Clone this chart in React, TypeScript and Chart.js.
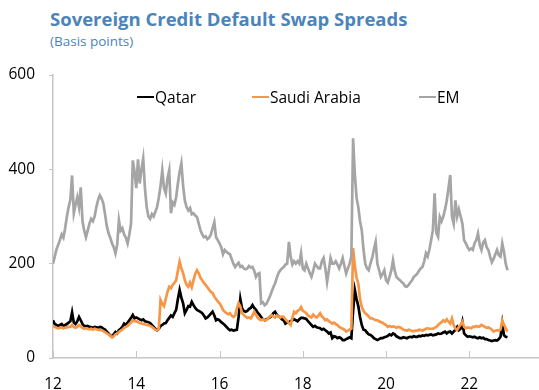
import React, { useEffect, useRef } from "react";
import { Chart, registerables } from "chart.js";

Chart.register(...registerables);

// ---- data ----
const START_YEAR = 12; // 2012
const STEPS_PER_YEAR = 24; // semi-monthly observations
const xTickValues = [12, 14, 16, 18, 20, 22];
const yTickValues = [0, 200, 400, 600];
const seriesNames = ["Qatar", "Saudi Arabia", "EM"];

const qatar = [
  80, 72, 70, 68, 70, 72, 68, 70, 72, 75, 78, 97, 75, 72, 78, 87, 80, 72, 68, 67, 68, 66, 65, 64,
  66, 65, 64, 66, 65, 62, 60, 56, 52, 48, 45, 50, 55, 52, 59, 62, 66, 73, 70, 75, 80, 85, 91, 84,
  86, 84, 82, 80, 82, 78, 77, 76, 74, 70, 66, 62, 59, 62, 68, 70, 73, 74, 80, 85, 90, 87, 95, 102,
  125, 144, 128, 116, 95, 102, 110, 109, 119, 112, 106, 102, 100, 98, 95, 90, 84, 86, 90, 94, 98, 90, 80, 82,
  80, 76, 73, 70, 66, 62, 59, 60, 58, 59, 60, 87, 125, 105, 100, 98, 100, 104, 106, 112, 106, 102, 96, 92,
  87, 82, 80, 82, 84, 86, 90, 95, 98, 92, 88, 86, 82, 80, 73, 75, 76, 78, 80, 82, 80, 78, 82, 85,
  85, 84, 83, 78, 74, 70, 66, 68, 65, 64, 63, 60, 62, 59, 56, 52, 54, 42, 46, 45, 42, 44, 42, 38,
  38, 40, 42, 44, 42, 100, 144, 125, 110, 87, 70, 60, 59, 54, 50, 49, 46, 42, 40, 38, 40, 42, 42, 44,
  45, 47, 50, 48, 52, 50, 46, 44, 42, 42, 44, 43, 42, 44, 45, 44, 46, 45, 45, 47, 46, 48, 47, 49,
  48, 49, 50, 48, 49, 50, 52, 51, 52, 54, 56, 52, 55, 56, 52, 56, 60, 66, 59, 62, 77, 52, 48, 45,
  46, 45, 44, 45, 43, 42, 44, 42, 43, 40, 40, 38, 37, 36, 37, 38, 37, 40, 45, 73, 48, 45, 44,
];

const saudi = [
  68, 66, 64, 63, 64, 65, 63, 64, 65, 66, 66, 70, 66, 64, 66, 70, 67, 64, 62, 63, 62, 61, 62, 60,
  62, 61, 60, 59, 59, 57, 55, 52, 50, 47, 44, 46, 50, 52, 55, 58, 60, 64, 66, 68, 72, 75, 80, 78,
  78, 76, 74, 73, 72, 71, 70, 70, 68, 66, 63, 60, 59, 62, 123, 115, 110, 125, 140, 151, 148, 155, 159, 165,
  185, 204, 190, 180, 165, 155, 151, 160, 150, 165, 178, 186, 180, 170, 165, 159, 155, 150, 145, 140, 138, 130, 125, 120,
  116, 110, 102, 98, 95, 93, 95, 90, 87, 90, 105, 116, 109, 95, 91, 88, 85, 86, 84, 90, 98, 92, 85, 82,
  80, 82, 80, 80, 84, 88, 91, 88, 86, 90, 88, 86, 88, 87, 82, 78, 74, 70, 85, 98, 95, 100, 102, 108,
  100, 98, 95, 90, 88, 86, 92, 88, 86, 90, 95, 88, 85, 80, 82, 78, 76, 73, 75, 72, 70, 66, 64, 62,
  60, 56, 58, 60, 62, 233, 195, 170, 158, 125, 108, 100, 95, 92, 88, 84, 84, 82, 80, 80, 78, 76, 75, 72,
  70, 66, 68, 66, 67, 66, 64, 66, 65, 63, 60, 59, 58, 60, 59, 57, 57, 58, 58, 60, 59, 58, 60, 62,
  63, 62, 62, 62, 64, 66, 70, 73, 76, 80, 77, 82, 77, 73, 84, 70, 62, 59, 66, 70, 77, 66, 63, 65,
  64, 63, 66, 66, 68, 66, 67, 70, 68, 66, 64, 65, 63, 60, 56, 58, 59, 58, 60, 80, 70, 63, 56,
];

const em = [
  200, 215, 230, 240, 250, 262, 255, 275, 300, 320, 335, 387, 307, 325, 341, 320, 362, 290, 270, 256, 270, 285, 295, 290,
  300, 320, 335, 345, 338, 328, 305, 280, 265, 255, 243, 235, 222, 240, 292, 270, 275, 262, 255, 243, 262, 285, 419, 395,
  360, 421, 370, 400, 423, 360, 320, 300, 295, 305, 300, 310, 320, 340, 365, 398, 360, 349, 380, 398, 307, 330, 325, 341,
  370, 395, 413, 365, 334, 320, 313, 318, 305, 307, 302, 299, 285, 271, 262, 256, 258, 252, 255, 262, 275, 288, 256, 250,
  243, 235, 220, 229, 225, 222, 220, 210, 200, 193, 198, 202, 193, 195, 190, 188, 190, 195, 192, 193, 185, 172, 178, 180,
  116, 118, 112, 115, 122, 130, 140, 150, 158, 170, 180, 186, 190, 193, 198, 200, 246, 215, 198, 205, 200, 205, 200, 222,
  190, 186, 200, 190, 180, 172, 185, 200, 195, 190, 190, 205, 212, 190, 161, 185, 212, 200, 200, 205, 198, 190, 200, 212,
  195, 179, 190, 200, 215, 466, 390, 340, 320, 290, 271, 230, 200, 190, 186, 200, 212, 230, 246, 200, 186, 172, 178, 186,
  165, 160, 172, 185, 207, 185, 172, 168, 165, 161, 158, 152, 151, 155, 160, 165, 172, 175, 179, 185, 190, 193, 205, 222,
  215, 230, 250, 271, 349, 265, 257, 299, 290, 300, 315, 334, 360, 388, 300, 285, 334, 300, 315, 300, 285, 250, 243, 235,
  229, 232, 229, 243, 250, 264, 240, 229, 245, 250, 235, 229, 215, 203, 210, 220, 229, 218, 215, 243, 225, 200, 186,
];

// ---- styles ----
const COLORS = ["#000000", "#F79646", "#A5A5A5"];
const AXIS_COLOR = "#C6C6C6";
const TITLE_COLOR = "#4C84BA";
const FONT = "'Open Sans', 'Noto Sans', sans-serif";

const toPoints = (vals: number[]) =>
  vals.map((v, i) => ({ x: START_YEAR + i / STEPS_PER_YEAR, y: v }));

const innerTicks = {
  id: "innerTicks",
  beforeDatasetsDraw(chart: any) {
    const { ctx, chartArea } = chart;
    const x = chart.scales.x;
    ctx.save();
    ctx.strokeStyle = AXIS_COLOR;
    ctx.lineWidth = 1;
    x.ticks.forEach((t: any) => {
      const px = Math.round(x.getPixelForValue(t.value)) + 0.5;
      ctx.beginPath();
      ctx.moveTo(px, chartArea.bottom);
      ctx.lineTo(px, chartArea.bottom - 7);
      ctx.stroke();
    });
    ctx.restore();
  },
};

export default function App() {
  const ref = useRef<HTMLCanvasElement | null>(null);

  useEffect(() => {
    if (!ref.current) return;
    const series = [qatar, saudi, em];
    const chart = new Chart(ref.current, {
      type: "line",
      data: {
        datasets: series.map((vals, i) => ({
          label: seriesNames[i],
          data: toPoints(vals),
          borderColor: COLORS[i],
          backgroundColor: COLORS[i],
          borderWidth: 2.7,
          pointRadius: 0,
          tension: 0,
          order: 3 - i,
        })),
      },
      options: {
        responsive: false,
        animation: false,
        layout: { padding: { top: 75, right: 1, bottom: 0, left: 0 } },
        plugins: { legend: { display: false }, tooltip: { enabled: false } },
        scales: {
          x: {
            type: "linear",
            min: 12,
            max: 23.65,
            afterBuildTicks: (s: any) => {
              s.ticks = xTickValues.map((v) => ({ value: v }));
            },
            afterFit: (s: any) => {
              s.height = 32;
            },
            grid: { display: false, drawTicks: false },
            border: { display: true, color: AXIS_COLOR, width: 1.5 },
            ticks: {
              padding: 17,
              color: "#000",
              font: { family: FONT, size: 15.5 },
              maxRotation: 0,
              callback: (v: any) => String(v),
            },
          },
          y: {
            min: 0,
            max: 600,
            afterBuildTicks: (s: any) => {
              s.ticks = yTickValues.map((v) => ({ value: v }));
            },
            afterFit: (s: any) => {
              s.width = 53;
            },
            grid: {
              display: true,
              drawOnChartArea: false,
              drawTicks: true,
              tickLength: 4,
              color: AXIS_COLOR,
              lineWidth: 1,
            },
            border: { display: true, color: AXIS_COLOR, width: 1.5 },
            ticks: {
              padding: 14,
              color: "#000",
              font: { family: FONT, size: 15.5 },
            },
          },
        },
      },
      plugins: [innerTicks],
    });
    return () => chart.destroy();
  }, []);

  const legendItems = [
    { name: seriesNames[0], color: COLORS[0], left: 137 },
    { name: seriesNames[1], color: COLORS[1], left: 252 },
    { name: seriesNames[2], color: COLORS[2], left: 419 },
  ];

  return (
    <div
      style={{
        position: "absolute",
        left: 0,
        top: 0,
        width: 539,
        height: 390,
        background: "#fff",
        fontFamily: FONT,
      }}
    >
      <div
        style={{
          position: "absolute",
          left: 50,
          top: 6.5,
          fontSize: 18.5,
          fontWeight: 700,
          color: TITLE_COLOR,
          lineHeight: "24px",
          whiteSpace: "nowrap",
        }}
      >
        Sovereign Credit Default Swap Spreads
      </div>
      <div
        style={{
          position: "absolute",
          left: 50,
          top: 30.5,
          fontSize: 13.5,
          color: TITLE_COLOR,
          lineHeight: "20px",
          whiteSpace: "nowrap",
        }}
      >
        (Basis points)
      </div>
      <canvas ref={ref} width={539} height={390} style={{ position: "absolute", left: 0, top: 0 }} />
      {legendItems.map((it) => (
        <div
          key={it.name}
          style={{
            position: "absolute",
            left: it.left,
            top: 86,
            height: 22,
            display: "flex",
            alignItems: "center",
            whiteSpace: "nowrap",
            fontSize: 15.5,
            color: "#000",
          }}
        >
          <span
            style={{ display: "inline-block", width: 17, height: 2.5, background: it.color, marginRight: 1 }}
          />
          <span>{it.name}</span>
        </div>
      ))}
    </div>
  );
}
